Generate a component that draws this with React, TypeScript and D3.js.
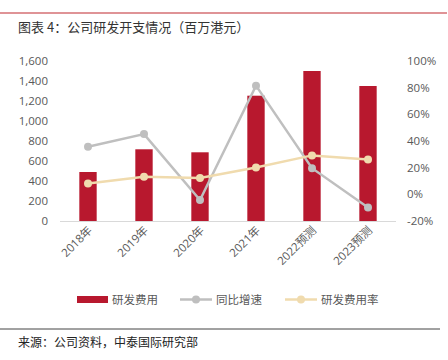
import React from "react";
import * as d3 from "d3";

const categories = ["2018年", "2019年", "2020年", "2021年", "2022预测", "2023预测"];
const rdExpense = [490, 717, 687, 1253, 1500, 1350];
const yoyGrowth = [35.7, 45.2, -4.3, 81.5, 19.6, -9.8];
const rdRatio = [8.2, 13.2, 12.2, 20.2, 29.2, 26.2];
const leftTicks = [0, 200, 400, 600, 800, 1000, 1200, 1400, 1600];
const rightTicks = [-20, 0, 20, 40, 60, 80, 100];

const W = 448, H = 360;
const plot = { left: 60, right: 396, top: 61, bottom: 221 };
const font = "'Open Sans', 'Noto Sans CJK SC', sans-serif";
const cjk = "'Noto Sans CJK SC', sans-serif";
const RED = "#B8182E", GRAY = "#BFBFBF", TAN = "#F0DBAE", TXT = "#595959";

export default function App() {
  const x = d3.scaleBand().domain(categories).range([plot.left, plot.right]).paddingInner(0.69).paddingOuter(0.345);
  const yL = d3.scaleLinear().domain([0, 1600]).range([plot.bottom, plot.top]);
  const yR = d3.scaleLinear().domain([-20, 100]).range([plot.bottom, plot.top]);
  const cx = (c: string) => (x(c) as number) + x.bandwidth() / 2;
  const line = d3.line<number>().x((_, i) => cx(categories[i])).y((d) => yR(d));

  return (
    <svg width={W} height={H} style={{ position: "absolute", left: 0, top: 0 }}>
      <rect width={W} height={H} fill="#fff" />
      <line x1={0} x2={447} y1={13} y2={13} stroke="#C0292F" strokeWidth={1.2} />
      <text x={18} y={32} fontFamily={cjk} fontSize={13} fill="#333">图表 4：公司研发开支情况（百万港元）</text>

      {leftTicks.map((t) => (
        <text key={t} x={48} y={yL(t)} dy="0.35em" textAnchor="end" fontFamily={font} fontSize={11.5} fill={TXT}>
          {d3.format(",")(t)}
        </text>
      ))}
      {rightTicks.map((t) => (
        <text key={t} x={407} y={yR(t)} dy="0.35em" textAnchor="start" fontFamily={font} fontSize={11.5} fill={TXT}>
          {t + "%"}
        </text>
      ))}

      {categories.map((c, i) => (
        <rect key={c} x={x(c)} y={yL(rdExpense[i])} width={x.bandwidth()} height={yL(0) - yL(rdExpense[i])} fill={RED} />
      ))}
      <line x1={plot.left} x2={plot.right} y1={plot.bottom + 0.5} y2={plot.bottom + 0.5} stroke="#D9D9D9" strokeWidth={1} />

      <path d={line(yoyGrowth) || ""} fill="none" stroke={GRAY} strokeWidth={2.5} />
      {yoyGrowth.map((v, i) => (
        <circle key={i} cx={cx(categories[i])} cy={yR(v)} r={4} fill={GRAY} />
      ))}
      <path d={line(rdRatio) || ""} fill="none" stroke={TAN} strokeWidth={2.5} />
      {rdRatio.map((v, i) => (
        <circle key={i} cx={cx(categories[i])} cy={yR(v)} r={4} fill={TAN} />
      ))}

      {categories.map((c) => (
        <text key={c} transform={`translate(${cx(c) + 5},${231}) rotate(-45)`} textAnchor="end" fontFamily={font} fontSize={11.5} fill={TXT}>
          {c}
        </text>
      ))}

      <g fontFamily={cjk} fontSize={11.5} fill={TXT}>
        <rect x={77} y={296} width={31} height={7} fill={RED} />
        <text x={112} y={300} dy="0.35em">研发费用</text>
        <line x1={180} x2={212} y1={299.5} y2={299.5} stroke={GRAY} strokeWidth={2.5} />
        <circle cx={196} cy={299.5} r={4} fill={GRAY} />
        <text x={216} y={300} dy="0.35em">同比增速</text>
        <line x1={285} x2={317} y1={299.5} y2={299.5} stroke={TAN} strokeWidth={2.5} />
        <circle cx={301} cy={299.5} r={4} fill={TAN} />
        <text x={321} y={300} dy="0.35em">研发费用率</text>
      </g>

      <line x1={0} x2={440} y1={329} y2={329} stroke="#444" strokeWidth={1} />
      <text x={18} y={347} fontFamily={cjk} fontSize={12} fill="#222">来源：公司资料，中泰国际研究部</text>
    </svg>
  );
}
